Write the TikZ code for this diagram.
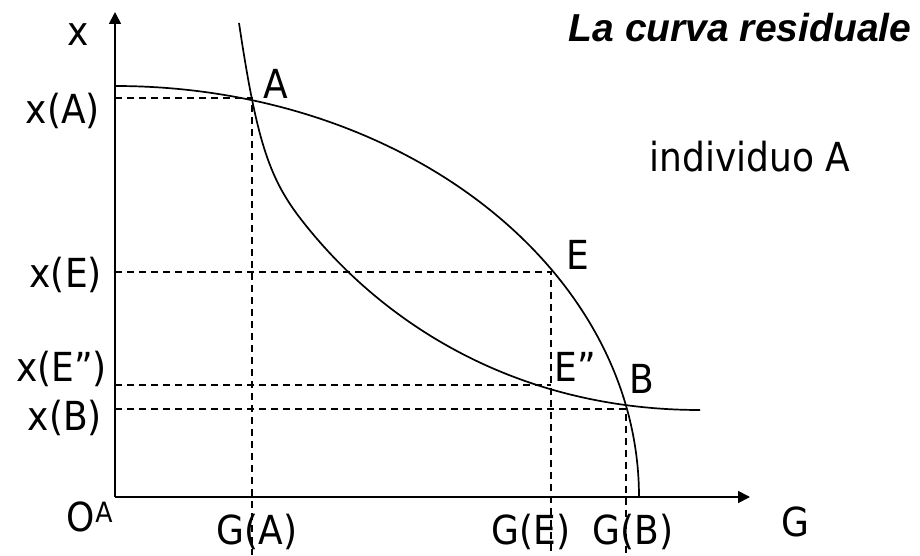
\documentclass[tikz,border=0pt]{standalone}
\usepackage{fontspec}
\setmainfont{DejaVu Sans Condensed}
\newfontfamily\titlefont{Liberation Sans}
\usetikzlibrary{arrows.meta}
\begin{document}
\begin{tikzpicture}[x=1pt,y=1pt,
  lbl/.style={font=\fontsize{40}{46}\selectfont, inner sep=0pt},
  axisline/.style={line width=1.7pt, -{Triangle[length=12pt,width=12pt]}},
  curveline/.style={line width=1.7pt},
  guide/.style={line width=1.4pt, dash pattern=on 7pt off 5pt}]
\useasboundingbox (0,0) rectangle (920,555);
% axes
\coordinate (O) at (115,58);
\coordinate (ytip) at (115,543);
\coordinate (xtip) at (750,58);
\draw[axisline] (O) -- (ytip);
\draw[axisline] (O) -- (xtip);
% points
\coordinate (A) at (252,457);
\coordinate (E) at (551,283);
\coordinate (E2) at (551,170);
\coordinate (B) at (626,146);
\coordinate (yA) at (115,457);
\coordinate (yE) at (115,283);
\coordinate (yE2) at (115,170);
\coordinate (yB) at (115,146);
\coordinate (bA) at (252,0);
\coordinate (bE) at (551,0);
\coordinate (bB) at (626,0);
% concave frontier
\coordinate (ppftop) at (115,469);
\draw[curveline] (ppftop) arc[start angle=90,end angle=0,x radius=524pt,y radius=411pt];
% convex residual curve
\coordinate (rtop) at (239,532);
\coordinate (rmid) at (300,337);
\coordinate (rend) at (700,145);
\draw[curveline] (rtop) .. controls (256.2,417) and (268.5,378) .. (rmid)
                        .. controls (380,233) and (515,145) .. (rend);
% guides
\draw[guide] (yA) -- (A) -- (bA);
\draw[guide] (yE) -- (E) -- (bE);
\draw[guide] (yE2) -- (E2);
\draw[guide] (yB) -- (B) -- (bB);
% labels
\node[lbl] (lx) at (78,520) {x};
\node[lbl, anchor=east] (lxA) at (100,444) {x(A)};
\node[lbl, anchor=east] (lxE) at (102,280) {x(E)};
\node[lbl, anchor=east] (lxE2) at (107,186) {x(E'')};
\node[lbl, anchor=east] (lxB) at (102,137) {x(B)};
\node[lbl] (lA) at (276,471) {A};
\node[lbl] (lE) at (578,300) {E};
\node[lbl] (lE2) at (575,188) {E''};
\node[lbl] (lB) at (642,176) {B};
\node[lbl] (lO) at (90,38) {O\textsuperscript{A}};
\node[lbl] (lGA) at (257,23) {G(A)};
\node[lbl] (lGE) at (531,23) {G(E)};
\node[lbl] (lGB) at (633,23) {G(B)};
\node[lbl] (lG) at (795,33) {G};
\node[inner sep=0pt, font=\titlefont\bfseries\itshape\fontsize{39}{44}\selectfont] (title) at (740,527) {La curva residuale};
\node[lbl] (indiv) at (750,398) {individuo A};
\end{tikzpicture}
\end{document}
